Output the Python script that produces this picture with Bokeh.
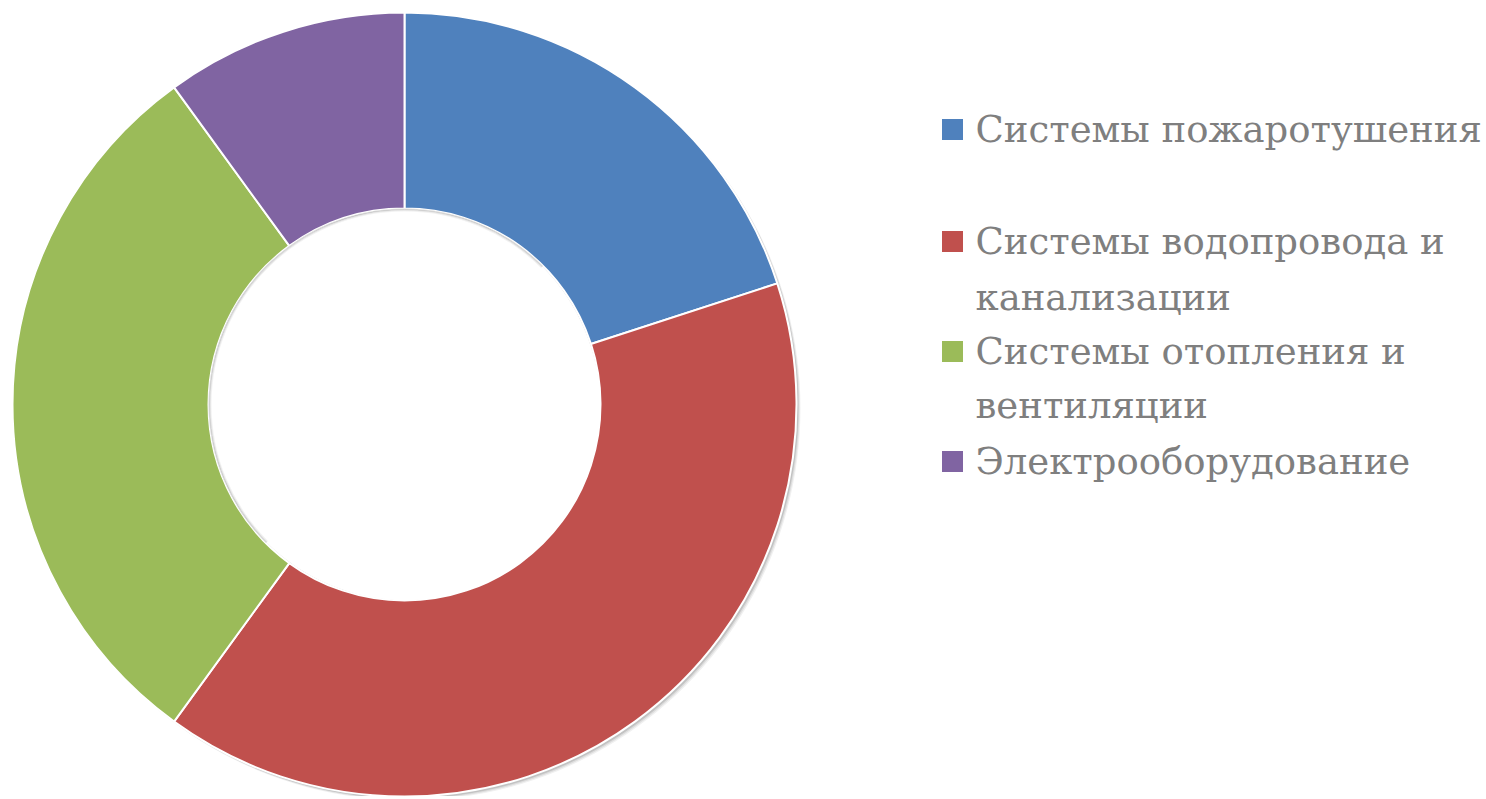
import math
from bokeh.plotting import figure
from bokeh.models import Range1d, ColumnDataSource
from bokeh.core.properties import value
from bokeh.embed import file_html
from bokeh.resources import INLINE

categories = ["Системы пожаротушения", "Системы водопровода и канализации",
              "Системы отопления и вентиляции", "Электрооборудование"]
legend_lines = [["Системы пожаротушения"],
                ["Системы водопровода и", "канализации"],
                ["Системы отопления и", "вентиляции"],
                ["Электрооборудование"]]
shares = [20, 40, 30, 10]
colors = ["#4F81BD", "#C0504D", "#9BBB59", "#8064A2"]

W, H = 1484, 796
p = figure(width=W, height=H, output_backend="svg", toolbar_location=None,
           x_range=Range1d(0, W), y_range=Range1d(0, H), min_border=0)
p.axis.visible = False
p.grid.visible = False
p.outline_line_color = None
p.background_fill_color = "white"

cx, cy = 404, H - 404
r_out, r_in = 392, 196

total = sum(shares)
starts, ends = [], []
a = math.pi / 2
for s in shares:
    starts.append(a)
    a -= 2 * math.pi * s / total
    ends.append(a)

# soft shadow
for off, alpha in [(4, 0.06), (3, 0.08), (2, 0.12)]:
    p.annular_wedge(x=cx + off, y=cy - off, inner_radius=r_in - off, outer_radius=r_out,
                    start_angle=math.pi / 2, end_angle=math.pi / 2 - 2 * math.pi + 1e-6,
                    direction="clock", fill_color="#000000", fill_alpha=alpha, line_color=None)

src = ColumnDataSource(dict(start=starts, end=ends, color=colors, cat=categories))
p.annular_wedge(x=cx, y=cy, inner_radius=r_in, outer_radius=r_out,
                start_angle="start", end_angle="end", direction="clock",
                fill_color="color", line_color="white", line_width=2, source=src)
p.circle(x=cx, y=cy, radius=r_in - 1, fill_color="white", line_color=None)
for off, alpha in [(3, 0.05), (2, 0.08)]:
    p.annular_wedge(x=cx, y=cy, inner_radius=r_in - off, outer_radius=r_in,
                    start_angle=math.pi * 0.25, end_angle=math.pi * 1.25,
                    direction="anticlock", fill_color="#000000", fill_alpha=alpha, line_color=None)

# legend
item_y = [[129], [241, 297], [351, 405], [461]]
sq_x, sq = 952, 21
tx = 975
xs, ys, ts = [], [], []
for lines, yy in zip(legend_lines, item_y):
    for t, y in zip(lines, yy):
        xs.append(tx); ys.append(H - y); ts.append(t)
p.text(x=xs, y=ys, text=ts, text_font=value("DejaVu Serif"),
       text_font_size="37px", text_color="#7F7F7F", text_baseline="middle", text_align="left")
p.rect(x=[sq_x] * 4, y=[H - yy[0] for yy in item_y], width=sq, height=sq,
       fill_color=colors, line_color=None)

open("out.html", "w").write(file_html(p, INLINE))
